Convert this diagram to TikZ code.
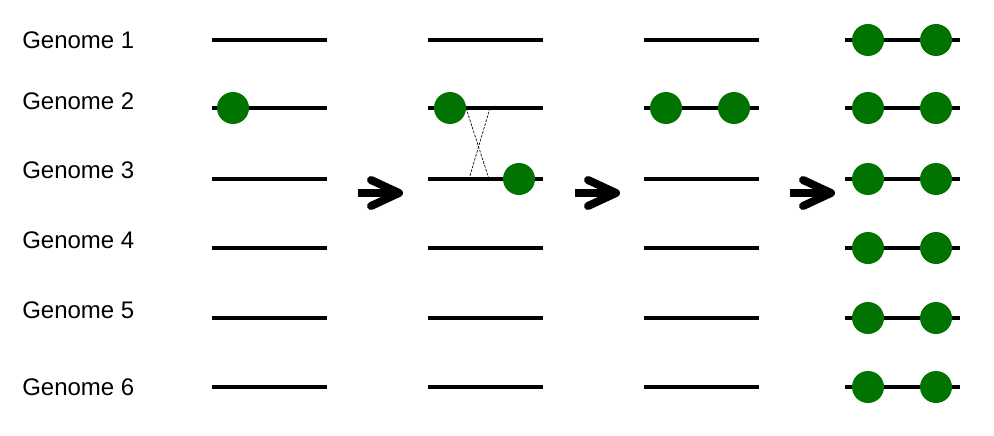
\documentclass[tikz,border=0pt]{standalone}
\usepackage{fontspec}
\setmainfont{Liberation Sans}
\definecolor{gdark}{RGB}{0,115,0}
\begin{document}
\begin{tikzpicture}[
        x=0.75pt, y=-0.75pt, % 1 unit = 1 pixel
        genome/.style={font=\fontsize{18}{20}\selectfont, anchor=west, inner sep=0pt},
        chrom/.style={line width=3pt}, % Genome line
        gene/.style={circle, fill=gdark, minimum size=24pt, inner sep=0pt},
        cross/.style={line width=0.5pt, dash pattern=on 2pt off 1pt},
        stage/.style={line width=6pt, line cap=round, line join=round},
    ]
    \useasboundingbox (0,0) rectangle (994,435);

    % Labels and genome lines
    \foreach \i/\y/\ty in {1/40/40, 2/108/101, 3/179/170, 4/248/240, 5/318/310, 6/387/387} {
        \node[genome] (lab\i) at (22,\ty) {Genome \i};
        \foreach \c/\x in {1/212, 2/428, 3/644, 4/845} {
            \coordinate (l\c-\i) at (\x,\y);
            \coordinate (r\c-\i) at (\x+115,\y);
            \draw[chrom] (l\c-\i) -- (r\c-\i);
        }
    }

    % Crossover
    \coordinate (xa) at (466,108);
    \coordinate (xb) at (489,179);
    \coordinate (xc) at (490,108);
    \coordinate (xd) at (469,179);
    \draw[cross] (xa) -- (xb);
    \draw[cross] (xc) -- (xd);

    % Genes
    \node[gene] (g1) at (233,108) {};
    \node[gene] (g2a) at (450,108) {};
    \node[gene] (g2b) at (519,179) {};
    \node[gene] (g3a) at (666,108) {};
    \node[gene] (g3b) at (734,108) {};
    \foreach \i/\y in {1/40, 2/108, 3/179, 4/248, 5/318, 6/387} {
        \node[gene] (g4a-\i) at (868,\y) {};
        \node[gene] (g4b-\i) at (936,\y) {};
    }

    % Arrows between stages
    \foreach \k/\dx in {1/0, 2/217, 3/432} {
        \coordinate (s\k) at (358+\dx,193);
        \coordinate (t\k) at (399+\dx,193);
        \coordinate (u\k) at (371+\dx,180);
        \coordinate (d\k) at (371+\dx,206);
        \draw[line width=5.5pt] (s\k) -- (t\k);
        \draw[stage] (u\k) -- (t\k) -- (d\k);
    }
\end{tikzpicture}
\end{document}
